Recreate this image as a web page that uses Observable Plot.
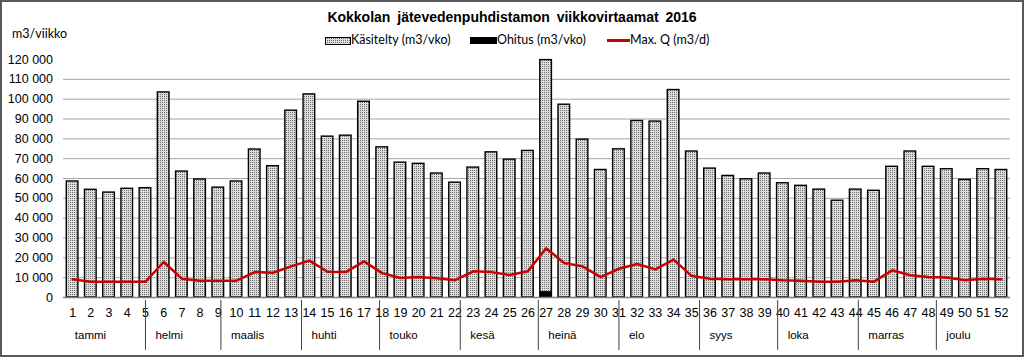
<!DOCTYPE html>
<html>
<head>
<meta charset="utf-8">
<script src="https://cdn.jsdelivr.net/npm/d3@7"></script>
<script src="https://cdn.jsdelivr.net/npm/@observablehq/plot@0.6"></script>
<style>
  body { margin: 0; background: #fff; }
  #chart { position: relative; width: 1024px; height: 357px; overflow: hidden; font-family: "Liberation Sans", Arial, sans-serif; color: #000; }
  #chart svg { position: absolute; left: 0; top: 0; }
  #frame { position: absolute; left: 0; top: 0; width: 1024px; height: 357px; box-sizing: border-box; border: 2px solid #595959; pointer-events: none; }
  #title { position: absolute; left: 0; top: 9px; width: 1024px; text-align: center; font-weight: bold; font-size: 14px; word-spacing: 3px; line-height: 16px; }
  #ylabel { position: absolute; left: 12px; top: 26px; font-family: Lato, "Open Sans", sans-serif; font-size: 12.5px; line-height: 16px; }
  .leg { position: absolute; top: 32px; height: 16px; font-family: Lato, "Open Sans", sans-serif; font-size: 12.5px; line-height: 16px; white-space: nowrap; }
  .sw { position: absolute; top: 4.5px; }
  .sw.dots { width: 24px; height: 6px; border: 1px solid #000; background: repeating-conic-gradient(#707070 0 25%, #dcdcdc 0 100%) 0 0 / 2px 2px; }
  .sw.black { width: 27px; height: 7px; background: #000; }
  .sw.line { top: 7px; width: 23px; height: 2.5px; background: #cc0000; }
</style>
</head>
<body>
<div id="chart">
  <div id="title">Kokkolan jätevedenpuhdistamon viikkovirtaamat 2016</div>
  <div id="ylabel">m3/viikko</div>
  <div class="leg" style="left:325px"><span class="sw dots"></span><span style="margin-left:26px">Käsitelty (m3/vko)</span></div>
  <div class="leg" style="left:470px"><span class="sw black"></span><span style="margin-left:27px">Ohitus (m3/vko)</span></div>
  <div class="leg" style="left:607px"><span class="sw line"></span><span style="margin-left:23px">Max. Q (m3/d)</span></div>
  <div id="frame"></div>
</div>
<script>
// ---- Data ----
const weeks = [1,2,3,4,5,6,7,8,9,10,11,12,13,14,15,16,17,18,19,20,21,22,23,24,25,26,
               27,28,29,30,31,32,33,34,35,36,37,38,39,40,41,42,43,44,45,46,47,48,49,50,51,52];
// Käsitelty (m3/vko)
const kasitelty = [58500,54300,52900,54800,55100,103400,63500,59500,55400,58500,74600,66200,94200,
                   102400,81100,81600,98700,75700,68000,67400,62500,57900,65500,73200,69500,73900,
                   117200,97200,79600,64300,74700,89000,88700,104600,73600,65000,61300,59600,62500,
                   57600,56300,54400,48800,54400,53800,65900,73600,65900,64700,59300,64700,64300];
// Ohitus (m3/vko)
const ohitus = [0,0,0,0,0,0,0,0,0,0,0,0,0,0,0,0,0,0,0,0,0,0,0,0,0,0,
                2500,0,0,0,0,0,0,0,0,0,0,0,0,0,0,0,0,0,0,0,0,0,0,0,0,0];
// Max. Q (m3/d)
const maxQ = [9200,7900,7900,7900,7900,17900,9500,8500,8500,8500,12800,12500,15700,
              18600,13000,12800,18200,12300,9800,10300,9700,8700,13200,12800,11300,13200,
              24800,17400,15700,10300,14500,16900,14200,19100,10800,9500,9200,9200,9200,
              8700,8500,8000,8000,8700,8000,13700,11200,10300,10100,8700,9500,9200];
const months = ["tammi","helmi","maalis","huhti","touko","kesä","heinä","elo","syys","loka","marras","joulu"];
const yTicks = [0,10000,20000,30000,40000,50000,60000,70000,80000,90000,100000,110000,120000];
const gridTicks = [10000,20000,30000,40000,50000,60000,70000,80000,90000,100000,110000];
const year = 2016;

// ---- Derived tables ----
const rows = weeks.map((w, i) => ({week: w, kasitelty: kasitelty[i], ohitus: ohitus[i], maxq: maxQ[i]}));
// month start positions on the week axis (day-of-year / 7)
const monthRows = months.map((name, m) => {
  const doy = d3.timeDay.count(new Date(year, 0, 1), new Date(year, m, 1)) + 1;
  return {name, pos: (doy - 0.5) / 7 + 0.5};
});
const fmt = d3.formatLocale({decimal: ",", thousands: " ", grouping: [3], currency: ["", ""]}).format(",");

const svg = Plot.plot({
  width: 1024,
  height: 357,
  marginLeft: 63,
  marginRight: 14,
  marginTop: 59,
  marginBottom: 60,
  style: {background: "transparent", fontFamily: "'Liberation Sans', Arial, sans-serif", fontSize: "12.5px", color: "#000", overflow: "visible"},
  x: {type: "linear", domain: [0.5, 52.5], axis: null},
  y: {domain: [0, 120000], ticks: yTicks, tickFormat: fmt, tickSize: 0, tickPadding: 10.5, label: null},
  marks: [
    Plot.ruleY(gridTicks, {stroke: "#a6a6a6", strokeWidth: 1}),
    Plot.rectY(rows, {
      x1: d => d.week - 0.5, x2: d => d.week + 0.5,
      y1: d => d.ohitus, y2: d => d.ohitus + d.kasitelty,
      insetLeft: 3.3, insetRight: 3.3,
      fill: "url(#dots)", stroke: "#000", strokeWidth: 1.4
    }),
    Plot.rectY(rows.filter(d => d.ohitus > 0), {
      x1: d => d.week - 0.5, x2: d => d.week + 0.5,
      y1: 0, y2: "ohitus",
      insetLeft: 3.3, insetRight: 3.3,
      fill: "#000", stroke: "#000", strokeWidth: 1.4
    }),
    Plot.ruleY([0], {stroke: "#7f7f7f", strokeWidth: 1.5}),
    Plot.line(rows, {x: "week", y: "maxq", stroke: "#cc0000", strokeWidth: 2.5, strokeLinejoin: "round"}),
    Plot.text(rows, {x: "week", y: 0, text: d => String(d.week), dy: 15, fontSize: 12.5, fill: "#000"}),
    Plot.ruleX(monthRows.slice(1), {x: "pos", y1: 0, y2: 0, insetTop: 3, insetBottom: -53, stroke: "#404040", strokeWidth: 1}),
    Plot.text(monthRows, {x: "pos", y: 0, text: "name", textAnchor: "start", dx: 10, dy: 38, fontSize: 11.5, fill: "#000"})
  ]
});

d3.select(svg).insert("defs", ":first-child").html(
  '<pattern id="dots" width="2" height="2" patternUnits="userSpaceOnUse">' +
  '<rect width="2" height="2" fill="#dcdcdc"/><rect width="1" height="1" fill="#707070"/></pattern>'
);
document.getElementById("chart").insertBefore(svg, document.getElementById("title"));
</script>
</body>
</html>
